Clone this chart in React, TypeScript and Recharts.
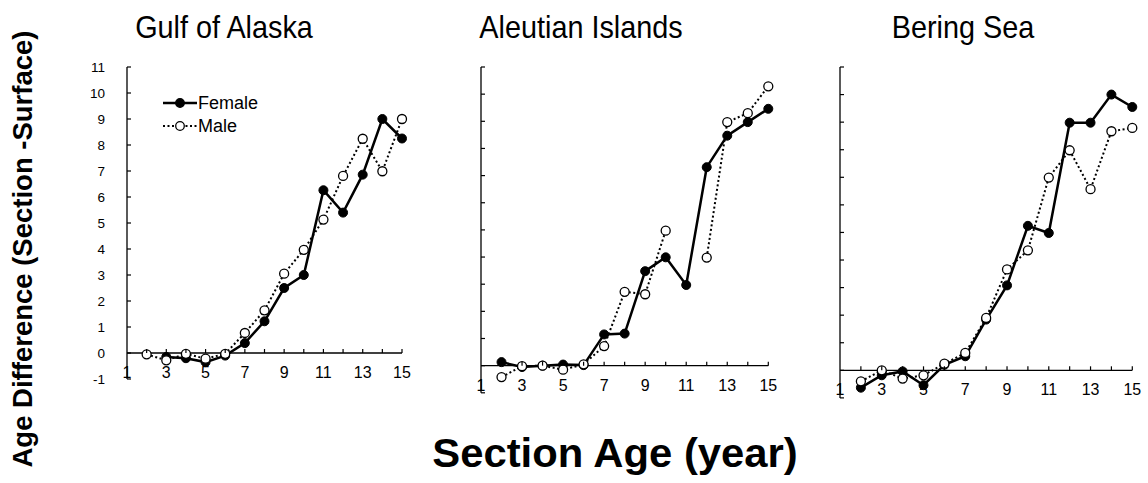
import React from "react";
import { LineChart, Line, XAxis, YAxis, ReferenceLine } from "recharts";

// Section age in years (shared x values for every panel)
const ages = [2, 3, 4, 5, 6, 7, 8, 9, 10, 11, 12, 13, 14, 15];

// Age difference (section - surface) by region, null where no sample
const gulfFemale = [null, -0.15, -0.2, -0.35, -0.1, 0.38, 1.22, 2.5, 3.0, 6.26, 5.4, 6.86, 9.0, 8.25];
const gulfMale = [-0.05, -0.28, -0.03, -0.22, -0.03, 0.77, 1.64, 3.05, 3.97, 5.13, 6.81, 8.24, 6.99, 9.0];

const aleutianFemale = [0.13, -0.05, 0, 0.04, 0.02, 1.15, 1.18, 3.48, 3.99, 2.97, 7.31, 8.47, 8.97, 9.46];
const aleutianMale = [-0.42, -0.02, 0, -0.15, 0.05, 0.72, 2.72, 2.63, 4.97, null, 3.98, 8.97, 9.3, 10.29];

const beringFemale = [-0.63, -0.18, -0.04, -0.54, 0.2, 0.51, 1.84, 3.08, 5.24, 4.98, 8.98, 8.98, 10.0, 9.55];
const beringMale = [-0.4, 0, -0.3, -0.18, 0.24, 0.63, 1.9, 3.66, 4.35, 6.99, 7.98, 6.57, 8.67, 8.79];

const xTicks = [1, 2, 3, 4, 5, 6, 7, 8, 9, 10, 11, 12, 13, 14, 15];
const yTicks = [-1, 0, 1, 2, 3, 4, 5, 6, 7, 8, 9, 10, 11];

const FONT = "'Liberation Sans', Arial, Helvetica, sans-serif";
const Y_AXIS_W = 50;
const TOP_PAD = 10;
const RIGHT_PAD = 12;
const X_AXIS_H = 30;

type Row = { age: number; female: number | null; male: number | null };

const toRows = (female: (number | null)[], male: (number | null)[]): Row[] =>
  ages.map((age, i) => ({ age, female: female[i], male: male[i] }));

const panels = [
  {
    title: "Gulf of Alaska",
    titleX: 224,
    rows: toRows(gulfFemale, gulfMale),
    plot: { left: 126.7, top: 66.7, width: 275, height: 312 },
    yLabels: true,
  },
  {
    title: "Aleutian Islands",
    titleX: 581,
    rows: toRows(aleutianFemale, aleutianMale),
    plot: { left: 481, top: 66.7, width: 287.3, height: 325.8 },
    yLabels: false,
  },
  {
    title: "Bering Sea",
    titleX: 963,
    rows: toRows(beringFemale, beringMale),
    plot: { left: 840, top: 66.7, width: 292.3, height: 330.9 },
    yLabels: false,
  },
];

function LegendBox() {
  const row = (label: string, dashed: boolean) => (
    <div style={{ display: "flex", alignItems: "center", height: 23 }}>
      <svg width={34} height={12}>
        <line
          x1={0}
          x2={34}
          y1={6}
          y2={6}
          stroke="#000"
          strokeWidth={dashed ? 2 : 2.5}
          strokeDasharray={dashed ? "2 2.5" : undefined}
        />
        <circle cx={17} cy={6} r={4.3} fill={dashed ? "#fff" : "#000"} stroke="#000" strokeWidth={1.3} />
      </svg>
      <span style={{ fontFamily: FONT, fontSize: 18, color: "#000", marginLeft: 1 }}>{label}</span>
    </div>
  );
  return (
    <div style={{ position: "absolute", left: 163, top: 91.5 }}>
      {row("Female", false)}
      {row("Male", true)}
    </div>
  );
}

function Panel({ p }: { p: (typeof panels)[number] }) {
  const { plot } = p;
  const unit = plot.height / 12;
  const width = Y_AXIS_W + plot.width + RIGHT_PAD;
  const height = TOP_PAD + plot.height + X_AXIS_H;

  // x ticks: short upward marks on the zero line, labels on odd ages
  const renderXTick = (props: any) => {
    const { x, y, payload } = props;
    const zeroY = y - unit;
    const v = payload.value;
    return (
      <g>
        {v > 1 && <line x1={x} x2={x} y1={zeroY} y2={zeroY - 4} stroke="#000" strokeWidth={1.2} />}
        {v % 2 === 1 && (
          <text x={x} y={zeroY + 25} textAnchor="middle" fontFamily={FONT} fontSize={16} fill="#000">
            {v}
          </text>
        )}
      </g>
    );
  };

  // y ticks point inward; labels only on the first panel
  const renderYTick = (props: any) => {
    const { x, y, payload } = props;
    return (
      <g>
        <line x1={x} x2={x + 4} y1={y} y2={y} stroke="#000" strokeWidth={1.2} />
        {p.yLabels && (
          <text x={x - 22} y={y + 4.8} textAnchor="end" fontFamily={FONT} fontSize={13.5} fill="#000">
            {payload.value}
          </text>
        )}
      </g>
    );
  };

  return (
    <div style={{ position: "absolute", left: plot.left - Y_AXIS_W, top: plot.top - TOP_PAD }}>
      <LineChart
        width={width}
        height={height}
        data={p.rows}
        margin={{ top: TOP_PAD, right: RIGHT_PAD, left: 0, bottom: 0 }}
      >
        <XAxis
          dataKey="age"
          type="number"
          domain={[1, 15]}
          ticks={xTicks}
          interval={0}
          axisLine={false}
          tickLine={false}
          tickSize={0}
          tickMargin={0}
          height={X_AXIS_H}
          tick={renderXTick}
        />
        <YAxis
          type="number"
          domain={[-1, 11]}
          ticks={yTicks}
          interval={0}
          width={Y_AXIS_W}
          axisLine={{ stroke: "#000", strokeWidth: 1.3 }}
          tickLine={false}
          tickSize={0}
          tickMargin={0}
          tick={renderYTick}
        />
        <ReferenceLine y={0} stroke="#000" strokeWidth={1.3} />
        <Line
          type="linear"
          dataKey="female"
          name="Female"
          stroke="#000"
          strokeWidth={2.5}
          dot={{ r: 4.5, fill: "#000", stroke: "#000", strokeWidth: 1 }}
          isAnimationActive={false}
        />
        <Line
          type="linear"
          dataKey="male"
          name="Male"
          stroke="#000"
          strokeWidth={2}
          strokeDasharray="2 2.5"
          dot={{ r: 4.5, fill: "#fff", stroke: "#000", strokeWidth: 1.3, strokeDasharray: "none" }}
          isAnimationActive={false}
        />
      </LineChart>
    </div>
  );
}

export default function App() {
  return (
    <div
      style={{
        position: "absolute",
        left: 0,
        top: 0,
        width: 1148,
        height: 483,
        background: "#fff",
        overflow: "hidden",
        fontFamily: FONT,
      }}
    >
      {panels.map((p) => (
        <div
          key={p.title}
          style={{
            position: "absolute",
            left: p.titleX,
            top: 9,
            transform: "translateX(-50%) scaleX(0.9)",
            fontSize: 32,
            lineHeight: "36px",
            whiteSpace: "nowrap",
            color: "#000",
          }}
        >
          {p.title}
        </div>
      ))}
      {panels.map((p) => (
        <Panel key={p.title} p={p} />
      ))}
      <LegendBox />
      <div
        style={{
          position: "absolute",
          left: 23,
          top: 249,
          transform: "translate(-50%, -50%) rotate(-90deg)",
          fontSize: 27.5,
          fontWeight: 700,
          whiteSpace: "nowrap",
          color: "#000",
        }}
      >
        Age Difference (Section -Surface)
      </div>
      <div
        style={{
          position: "absolute",
          left: 615,
          top: 453,
          transform: "translate(-50%, -50%) scaleX(1.045)",
          fontSize: 40,
          fontWeight: 700,
          whiteSpace: "nowrap",
          color: "#000",
        }}
      >
        Section Age (year)
      </div>
    </div>
  );
}
